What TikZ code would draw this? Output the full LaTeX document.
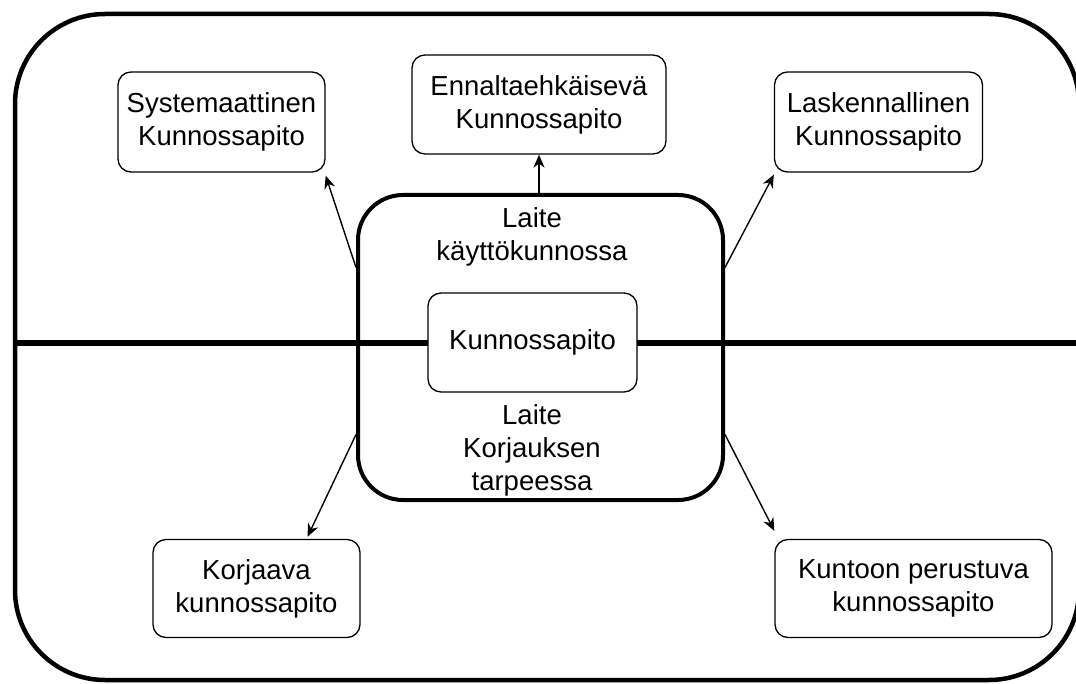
\documentclass[tikz,border=0pt]{standalone}
\usepackage{fontspec}
\setmainfont{Liberation Sans}
\usetikzlibrary{arrows.meta,calc}
\begin{document}
\begin{tikzpicture}[x=1pt,y=-1pt,
  box/.style={draw, line width=1.3pt, rounded corners=13pt, fill=white, align=center,
    inner sep=0pt, font=\fontsize{27.5}{33}\selectfont},
  lbl/.style={align=center, inner sep=0pt, font=\fontsize{27.5}{33}\selectfont},
  arr/.style={line width=1.4pt, -{Stealth[length=13pt,width=11pt]}}]
\useasboundingbox (0,0) rectangle (1076,684);
% outer frame
\draw[line width=4.5pt, rounded corners=90pt] (15,14) rectangle (1079,680);
% horizontal divider
\coordinate (hl) at (15,343);
\coordinate (hr) at (1076,343);
\draw[line width=6pt] (hl) -- (hr);
% central box
\node[draw, line width=4pt, rounded corners=45pt, minimum width=365pt, minimum height=305pt, inner sep=0pt] (cent) at (540.5,347.5) {};
\node[box, minimum width=209pt, minimum height=99pt] (main) at (532.5,342.5) {Kunnossapito};
\node[lbl] (up) at (532,237) {Laite\\käyttökunnossa};
\node[lbl] (down) at (532,450) {Laite\\Korjauksen\\tarpeessa};
% outer boxes
\node[box, minimum width=207pt, minimum height=100pt] (sys) at (221.5,122) {Systemaattinen\\Kunnossapito};
\node[box, minimum width=254pt, minimum height=99pt] (enn) at (539,104.5) {Ennaltaehkäisevä\\Kunnossapito};
\node[box, minimum width=208pt, minimum height=100pt] (las) at (878.5,122) {Laskennallinen\\Kunnossapito};
\node[box, minimum width=207pt, minimum height=98pt] (kor) at (256.5,588.5) {Korjaava\\kunnossapito};
\node[box, minimum width=277pt, minimum height=98pt] (kun) at (913.5,588.5) {Kuntoon perustuva\\kunnossapito};
% arrows
\draw[arr] ($(cent.west)+(0,-80)$) -- ($(sys.south east)+(0,3)$);
\draw[arr] ($(cent.east)+(0,-80)$) -- ($(las.south west)+(0,2)$);
\draw[arr] (cent.north -| enn.south) -- (enn.south);
\draw[arr] ($(cent.west)+(0,87)$) -- ($(kor.north)+(51,-2)$);
\draw[arr] ($(cent.east)+(0,87)$) -- ($(kun.north west)+(0,-8)$);
\end{tikzpicture}
\end{document}
